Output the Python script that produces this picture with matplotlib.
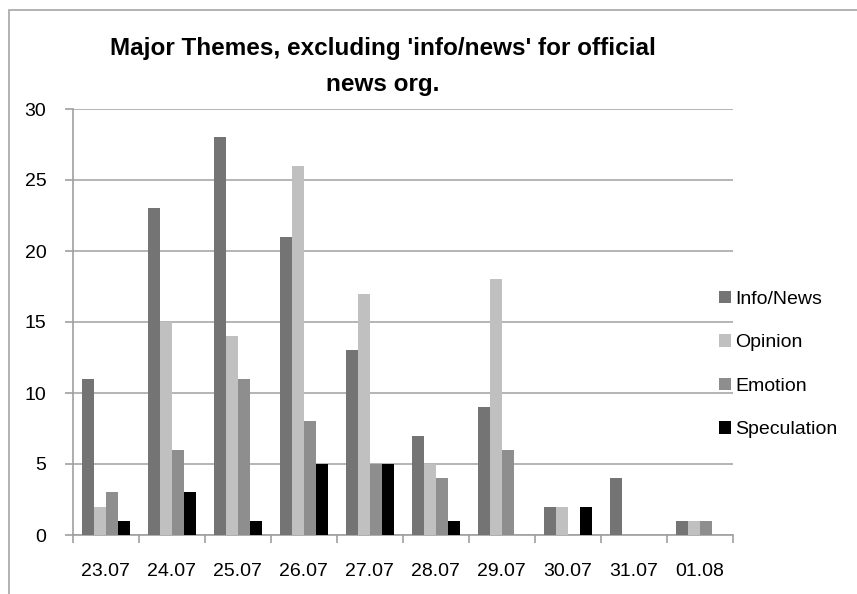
import matplotlib
matplotlib.use("Agg")
import matplotlib.pyplot as plt
import numpy as np
from matplotlib.patches import Rectangle

plt.rcParams["font.family"] = ["Liberation Sans", "DejaVu Sans"]

DATES = ["23.07", "24.07", "25.07", "26.07", "27.07", "28.07", "29.07", "30.07", "31.07", "01.08"]
INFO_NEWS = [11, 23, 28, 21, 13, 7, 9, 2, 4, 1]
OPINION = [2, 15, 14, 26, 17, 5, 18, 2, 0, 1]
EMOTION = [3, 6, 11, 8, 5, 4, 6, 0, 0, 1]
SPECULATION = [1, 3, 1, 5, 5, 1, 0, 2, 0, 0]
SERIES = [
    ("Info/News", INFO_NEWS, "#747474"),
    ("Opinion", OPINION, "#c0c0c0"),
    ("Emotion", EMOTION, "#8e8e8e"),
    ("Speculation", SPECULATION, "#000000"),
]
TITLE = "Major Themes, excluding 'info/news' for official\nnews org."

W, H = 857, 594
fig = plt.figure(figsize=(W / 100, H / 100), dpi=100)
ax = fig.add_axes([72.7 / W, 1 - 535 / H, 660 / W, 426 / H])

# excel-ish border of the chart area, cut by the image edge
fig.patches.append(Rectangle((9 / W, -0.5), 2.0, 1.5 - 10 / H, transform=fig.transFigure,
                             fill=False, edgecolor="#a6a6a6", linewidth=1.2))

x = np.arange(len(DATES))
bw = 1 / 5.5
for i, (name, vals, color) in enumerate(SERIES):
    ax.bar(x - 2 * bw + (i + 0.5) * bw, vals, width=bw, color=color, label=name, zorder=3)

ax.set_xlim(-0.5, len(DATES) - 0.5)
ax.set_ylim(0, 30)
ax.set_yticks(range(0, 31, 5))
ax.yaxis.grid(True, color="#a8a8a8", linewidth=1.2, zorder=0)
ax.set_xticks(x)
ax.set_xticklabels(DATES)
ax.set_xticks(np.arange(-0.5, len(DATES), 1.0), minor=True)
ax.tick_params(axis="x", which="major", length=0, pad=20, labelsize=14)
ax.tick_params(axis="x", which="minor", length=6, color="#a0a0a0", width=1.2)
ax.tick_params(axis="y", length=6, color="#a0a0a0", width=1.2, pad=13, labelsize=14)
for side in ("top", "right"):
    ax.spines[side].set_visible(False)
for side in ("left", "bottom"):
    ax.spines[side].set_color("#a0a0a0")
    ax.spines[side].set_linewidth(1.2)

fig.text(383 / W, 1 - 37 / H, TITLE, ha="center", va="top", fontsize=17.5, fontweight="bold",
         linespacing=1.7)

fig.legend(loc="upper left", bbox_to_anchor=(719 / W, 1 - 291 / H), frameon=False,
           fontsize=14, handlelength=0.6, handleheight=0.6, handletextpad=0.25,
           labelspacing=1.36, borderpad=0, borderaxespad=0)

fig.savefig("out.png", dpi=100)
